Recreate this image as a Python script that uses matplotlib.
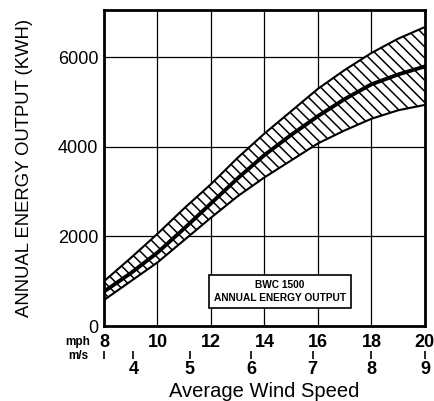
import numpy as np
import matplotlib
matplotlib.use('Agg')
import matplotlib.pyplot as plt

# values (mph -> annual kWh)
mph = [8, 9, 10, 11, 12, 13, 14, 15, 16, 17, 18, 19, 20]
upper = [1000, 1520, 2060, 2630, 3170, 3760, 4300, 4800, 5300, 5720, 6100, 6420, 6680]
middle = [770, 1180, 1640, 2180, 2740, 3300, 3820, 4270, 4690, 5070, 5400, 5620, 5800]
lower = [580, 1000, 1420, 1920, 2420, 2900, 3320, 3700, 4080, 4370, 4630, 4820, 4940]

mph_ticks = [8, 10, 12, 14, 16, 18, 20]
kwh_ticks = [0, 2000, 4000, 6000]
ms_pos = [8, 9.1, 11.2, 13.5, 15.8, 18.0, 20.0]
ms_labels = ['', '4', '5', '6', '7', '8', '9']

plt.rcParams['font.family'] = ['Liberation Sans', 'DejaVu Sans']
plt.rcParams['hatch.linewidth'] = 1.1

fig = plt.figure(figsize=(4.34, 4.01), dpi=100)
ax = fig.add_axes([0.2396, 0.187, 0.7394, 0.788])

ax.fill_between(mph, lower, upper, facecolor='white', edgecolor='black',
                hatch='\\\\\\', linewidth=0, zorder=2)
ax.plot(mph, upper, color='black', lw=1.5, zorder=3)
ax.plot(mph, lower, color='black', lw=1.5, zorder=3)
ax.plot(mph, middle, color='black', lw=2.8, zorder=4)

ax.set_xlim(8, 20)
ax.set_ylim(0, 7060)
ax.set_xticks(mph_ticks)
ax.set_yticks(kwh_ticks)
ax.grid(True, color='black', lw=0.9, zorder=1)
ax.tick_params(length=0, labelsize=13, pad=4)
ax.tick_params(axis='x', pad=6)
for lab in ax.get_xticklabels():
    lab.set_fontweight('bold')
for s in ax.spines.values():
    s.set_linewidth(2)

ax.set_ylabel('ANNUAL ENERGY OUTPUT (KWH)', fontsize=13.3, labelpad=18)

ax.text(14.58, 770, 'BWC 1500\nANNUAL ENERGY OUTPUT', ha='center', va='center',
        fontsize=7.3, fontweight='bold', linespacing=1.3, zorder=5,
        bbox=dict(boxstyle='square,pad=0.5', facecolor='white', edgecolor='black', lw=1.2))

# m/s scale underneath
ax2 = ax.twiny()
ax2.set_xlim(ax.get_xlim())
ax2.xaxis.set_ticks_position('bottom')
ax2.xaxis.set_label_position('bottom')
ax2.spines['bottom'].set_position(('outward', 18))
for s in ax2.spines.values():
    s.set_visible(False)
ax2.set_xticks(ms_pos)
ax2.set_xticklabels(ms_labels, fontweight='bold')
ax2.tick_params(axis='x', direction='out', length=6, width=1.2, labelsize=13, pad=1)
ax2.set_xlabel('Average Wind Speed', fontsize=14.5, labelpad=3)

fig.text(0.18, 0.147, 'mph', ha='center', va='center', fontsize=8.5, fontweight='bold')
fig.text(0.18, 0.112, 'm/s', ha='center', va='center', fontsize=8.5, fontweight='bold')

fig.savefig('out.png', dpi=100)
